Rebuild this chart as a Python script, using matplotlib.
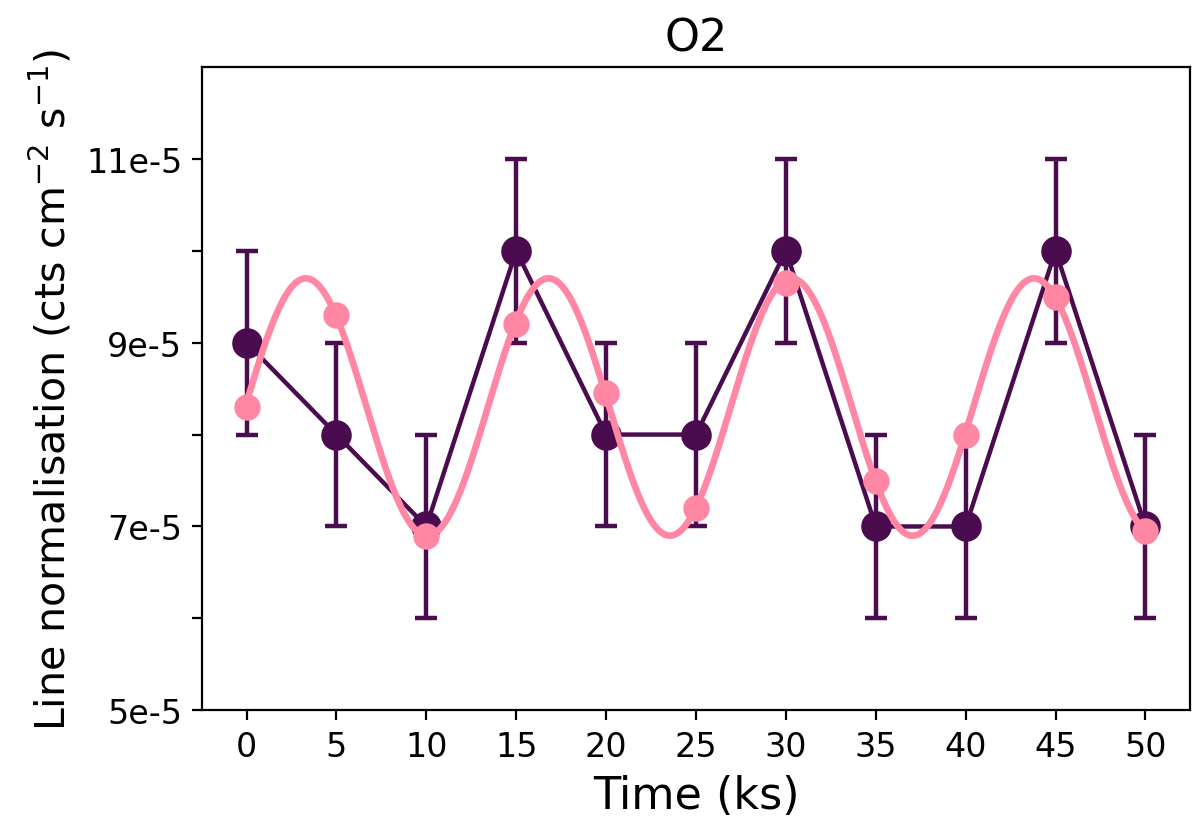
import numpy as np
import matplotlib
matplotlib.use("Agg")
import matplotlib.pyplot as plt

# Data (values in units of 1e-5)
time_ks = [0, 5, 10, 15, 20, 25, 30, 35, 40, 45, 50]
obs_norm = [9, 8, 7, 10, 8, 8, 10, 7, 7, 10, 7]
obs_err = [1, 1, 1, 1, 1, 1, 1, 1, 1, 1, 1]
model_norm = [8.3, 9.3, 6.9, 9.2, 8.45, 7.2, 9.65, 7.5, 8.0, 9.5, 6.95]

# Fitted sinusoid model parameters (units 1e-5, ks)
sine_mean = 8.3
sine_amp = 1.4
sine_period = 13.5
sine_peak_t = 3.3

ytick_vals = [5, 6, 7, 8, 9, 10, 11]
ytick_labels = ["5e-5", "", "7e-5", "", "9e-5", "", "11e-5"]
xtick_vals = [0, 5, 10, 15, 20, 25, 30, 35, 40, 45, 50]

scale = 1e-5
purple = "#4b0c4f"
pink = "#ff87a3"

fig, ax = plt.subplots(figsize=(6, 4.145), dpi=200)
fig.subplots_adjust(left=0.168, right=0.992, top=0.918, bottom=0.142)

t = np.array(time_ks)
ax.errorbar(t, np.array(obs_norm) * scale, yerr=np.array(obs_err) * scale,
            color=purple, marker="o", markersize=10, linewidth=1.6,
            elinewidth=1.6, capsize=4, capthick=1.6, zorder=2)

tt = np.linspace(min(time_ks), max(time_ks), 500)
curve = sine_mean + sine_amp * np.cos(2 * np.pi * (tt - sine_peak_t) / sine_period)
ax.plot(tt, curve * scale, color=pink, linewidth=2.4, zorder=3)
ax.plot(t, np.array(model_norm) * scale, "o", color=pink, markersize=8.5,
        linestyle="none", zorder=4)

ax.set_ylim(5 * scale, 12 * scale)
ax.set_xlim(-2.5, 52.5)
ax.set_yticks(np.array(ytick_vals) * scale)
ax.set_yticklabels(ytick_labels)
ax.set_xticks(xtick_vals)
ax.tick_params(labelsize=12)
ax.set_xlabel("Time (ks)", fontsize=16)
ax.set_ylabel(r"Line normalisation (cts cm$^{-2}$ s$^{-1}$)", fontsize=14.8)
ax.set_title("O2", fontsize=16)

fig.savefig("out.png", dpi=200)
